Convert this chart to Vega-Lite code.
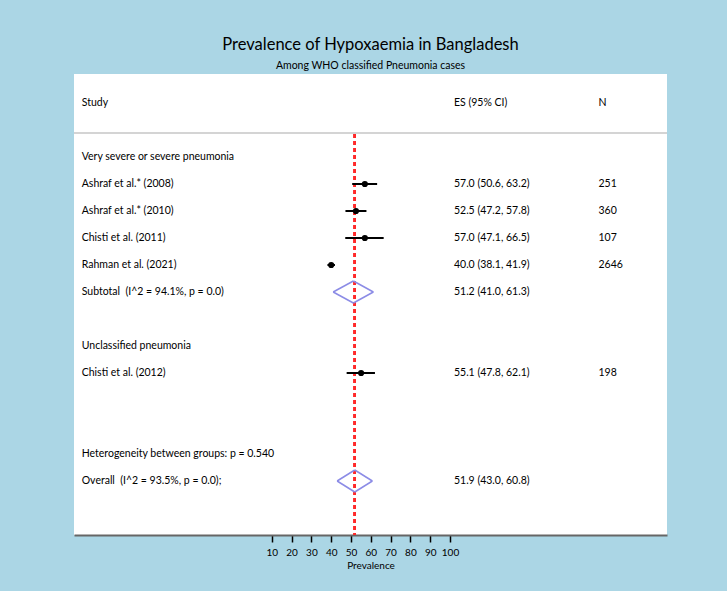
{
  "$schema": "https://vega.github.io/schema/vega-lite/v6.json",
  "width": 593,
  "height": 461,
  "autosize": {"type": "none"},
  "padding": {"left": 74, "top": 74, "right": 60, "bottom": 56},
  "background": "#abd6e5",
  "config": {
    "view": {"fill": "white", "stroke": null},
    "font": "Lato",
    "text": {"font": "Lato", "fontSize": 10.5, "color": "#000"}
  },
  "title": {
    "text": "Prevalence of Hypoxaemia in Bangladesh",
    "subtitle": "Among WHO classified Pneumonia cases",
    "anchor": "middle",
    "font": "Lato",
    "fontSize": 16.5,
    "fontWeight": "normal",
    "color": "#000",
    "subtitleFont": "Lato",
    "subtitleFontSize": 10.5,
    "subtitleColor": "#000",
    "subtitlePadding": 7,
    "offset": 3
  },
  "datasets": {
    "rows": [
      {"row": 0, "label": "Very severe or severe pneumonia"},
      {"row": 1, "label": "Ashraf et al.* (2008)", "es": 57.0, "lo": 50.6, "hi": 63.2, "est": "57.0 (50.6, 63.2)", "n": "251", "type": "study"},
      {"row": 2, "label": "Ashraf et al.* (2010)", "es": 52.5, "lo": 47.2, "hi": 57.8, "est": "52.5 (47.2, 57.8)", "n": "360", "type": "study"},
      {"row": 3, "label": "Chisti et al. (2011)", "es": 57.0, "lo": 47.1, "hi": 66.5, "est": "57.0 (47.1, 66.5)", "n": "107", "type": "study"},
      {"row": 4, "label": "Rahman et al. (2021)", "es": 40.0, "lo": 38.1, "hi": 41.9, "est": "40.0 (38.1, 41.9)", "n": "2646", "type": "study"},
      {"row": 5, "label": "Subtotal \u00a0(I^2 = 94.1%, p = 0.0)", "es": 51.2, "lo": 41.0, "hi": 61.3, "est": "51.2 (41.0, 61.3)", "type": "pooled"},
      {"row": 7, "label": "Unclassified pneumonia"},
      {"row": 8, "label": "Chisti et al. (2012)", "es": 55.1, "lo": 47.8, "hi": 62.1, "est": "55.1 (47.8, 62.1)", "n": "198", "type": "study"},
      {"row": 11, "label": "Heterogeneity between groups: p = 0.540"},
      {"row": 12, "label": "Overall \u00a0(I^2 = 93.5%, p = 0.0);", "es": 51.9, "lo": 43.0, "hi": 60.8, "est": "51.9 (43.0, 60.8)", "type": "pooled"}
    ],
    "header": [
      {"row": -2, "label": "Study", "est": "ES (95% CI)", "n": "N"}
    ]
  },
  "data": {"name": "rows"},
  "encoding": {
    "y": {"field": "row", "type": "quantitative", "scale": {"domain": [-3.074, 14.0], "reverse": true, "nice": false, "zero": false}, "axis": null}
  },
  "layer": [
    {
      "mark": {"type": "rule", "color": "#d4d4d4", "strokeWidth": 2},
      "encoding": {"y": {"datum": -0.889, "type": "quantitative"}}
    },
    {
      "mark": {"type": "rule", "color": "#ff2a2a", "strokeWidth": 2, "strokeDash": [4, 3]},
      "encoding": {
        "x": {"datum": 51.9, "type": "quantitative"},
        "y": {"datum": -0.85, "type": "quantitative"},
        "y2": {"datum": 14.0}
      }
    },
    {
      "transform": [{"filter": "datum.type === 'study'"}],
      "mark": {"type": "rule", "color": "black", "strokeWidth": 2},
      "encoding": {
        "x": {"field": "lo", "type": "quantitative", "scale": {"domain": [-89.9, 209.6], "nice": false, "zero": false}, "axis": {"values": [10, 20, 30, 40, 50, 60, 70, 80, 90, 100], "grid": false, "domainColor": "#666", "domainWidth": 2, "tickColor": "black", "tickWidth": 1.5, "tickSize": 7, "labelFont": "Lato", "labelFontSize": 10, "labelColor": "#000", "labelPadding": 5, "title": "Prevalence", "titleFont": "Lato", "titleFontSize": 10, "titleFontWeight": "normal", "titleColor": "#000", "titlePadding": 3}},
        "x2": {"field": "hi"}
      }
    },
    {
      "transform": [{"filter": "datum.type === 'study'"}],
      "mark": {"type": "point", "filled": true, "color": "black", "size": 38, "opacity": 1},
      "encoding": {"x": {"field": "es", "type": "quantitative"}}
    },
    {
      "transform": [{"filter": "datum.type === 'pooled'"}],
      "mark": {"type": "rule", "color": "#8c8ce6", "strokeWidth": 1.5, "y2Offset": -11},
      "encoding": {"x": {"field": "lo", "type": "quantitative"}, "x2": {"field": "es"}, "y2": {"field": "row"}}
    },
    {
      "transform": [{"filter": "datum.type === 'pooled'"}],
      "mark": {"type": "rule", "color": "#8c8ce6", "strokeWidth": 1.5, "yOffset": -11},
      "encoding": {"x": {"field": "es", "type": "quantitative"}, "x2": {"field": "hi"}, "y2": {"field": "row"}}
    },
    {
      "transform": [{"filter": "datum.type === 'pooled'"}],
      "mark": {"type": "rule", "color": "#8c8ce6", "strokeWidth": 1.5, "y2Offset": 11},
      "encoding": {"x": {"field": "hi", "type": "quantitative"}, "x2": {"field": "es"}, "y2": {"field": "row"}}
    },
    {
      "transform": [{"filter": "datum.type === 'pooled'"}],
      "mark": {"type": "rule", "color": "#8c8ce6", "strokeWidth": 1.5, "yOffset": 11},
      "encoding": {"x": {"field": "es", "type": "quantitative"}, "x2": {"field": "lo"}, "y2": {"field": "row"}}
    },
    {
      "mark": {"type": "text", "align": "left", "baseline": "middle"},
      "encoding": {"x": {"datum": -86, "type": "quantitative"}, "text": {"field": "label"}}
    },
    {
      "transform": [{"filter": "isValid(datum.est)"}],
      "mark": {"type": "text", "align": "left", "baseline": "middle"},
      "encoding": {"x": {"datum": 102, "type": "quantitative"}, "text": {"field": "est"}}
    },
    {
      "transform": [{"filter": "isValid(datum.n)"}],
      "mark": {"type": "text", "align": "left", "baseline": "middle"},
      "encoding": {"x": {"datum": 175, "type": "quantitative"}, "text": {"field": "n"}}
    },
    {
      "data": {"name": "header"},
      "mark": {"type": "text", "align": "left", "baseline": "middle"},
      "encoding": {"x": {"datum": -86, "type": "quantitative"}, "text": {"field": "label"}}
    },
    {
      "data": {"name": "header"},
      "mark": {"type": "text", "align": "left", "baseline": "middle"},
      "encoding": {"x": {"datum": 102, "type": "quantitative"}, "text": {"field": "est"}}
    },
    {
      "data": {"name": "header"},
      "mark": {"type": "text", "align": "left", "baseline": "middle"},
      "encoding": {"x": {"datum": 175, "type": "quantitative"}, "text": {"field": "n"}}
    }
  ]
}
